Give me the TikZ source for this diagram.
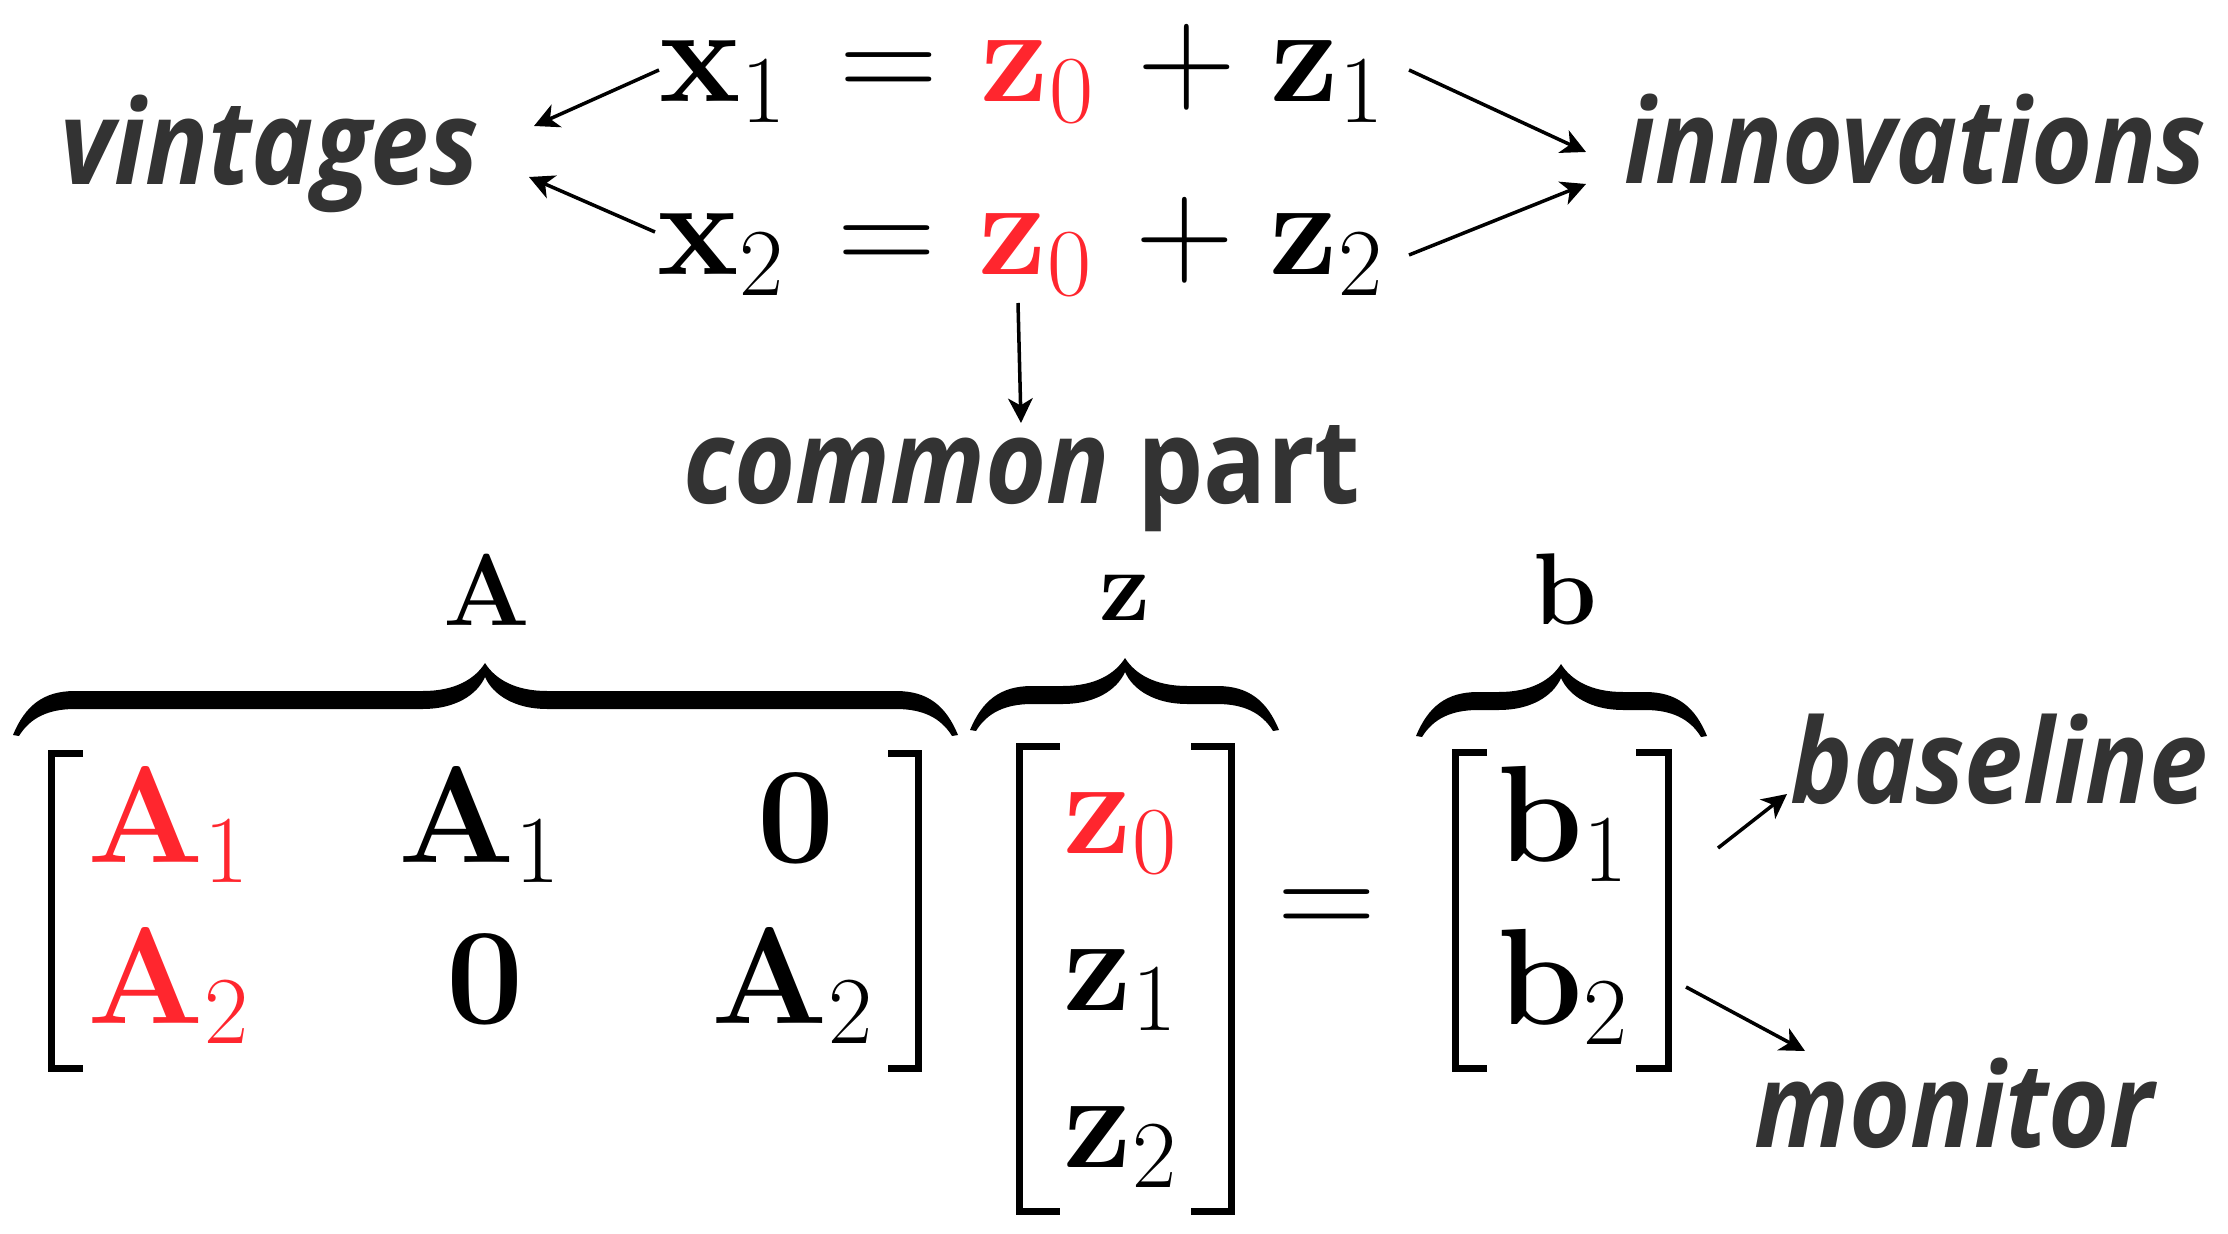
\RequirePackage{fix-cm}
\documentclass[tikz,border=0pt]{standalone}
\usepackage[no-math]{fontspec}
\usepackage{amsmath}
\usetikzlibrary{arrows.meta,calc}
\newfontfamily\wordfont{Open Sans}[FakeStretch=0.89]
\definecolor{zred}{RGB}{255,38,46}
\definecolor{wordgray}{RGB}{51,51,51}

% thick brace over a block: left end, tip, right end, y of the ends
\newcommand{\capbrace}[4]{%
  \fill (#1,#4)
    .. controls ({#1+12},{#4-29}) and ({#1+30},{#4-44}) .. ({#1+62},{#4-44})
    -- ({#2-62},{#4-44})
    .. controls ({#2-30},{#4-44}) and ({#2-10},{#4-56}) .. (#2,{#4-72})
    .. controls ({#2+10},{#4-56}) and ({#2+30},{#4-44}) .. ({#2+62},{#4-44})
    -- ({#3-62},{#4-44})
    .. controls ({#3-30},{#4-44}) and ({#3-12},{#4-29}) .. (#3,#4)
    -- ({#3-6},{#4+1})
    .. controls ({#3-17},{#4-17}) and ({#3-35},{#4-26}) .. ({#3-62},{#4-26})
    -- ({#2+62},{#4-26})
    .. controls ({#2+30},{#4-26}) and ({#2+8},{#4-40}) .. (#2,{#4-58})
    .. controls ({#2-8},{#4-40}) and ({#2-30},{#4-26}) .. ({#2-62},{#4-26})
    -- ({#1+62},{#4-26})
    .. controls ({#1+35},{#4-26}) and ({#1+17},{#4-17}) .. ({#1+6},{#4+1})
    -- cycle;}

\begin{document}
\begin{tikzpicture}[x=0.01cm, y=-0.01cm,
    mth/.style={inner sep=0pt, font=\fontsize{39}{46}\selectfont},
    lbl/.style={inner sep=0pt, font=\fontsize{29}{34}\selectfont},
    word/.style={inner sep=0pt, text=wordgray, anchor=base west,
      font=\wordfont\fontsize{33.5}{40}\selectfont\bfseries\itshape},
    conn/.style={-{Stealth[length=7pt,width=7pt,inset=2pt]}, line width=1pt},
    brk/.style={line width=2pt}]
  \useasboundingbox (0,0) rectangle (2228,1234);

  % the two vintages
  \node[mth, anchor=base west] (x1) at (659,102) {$\mathbf{x}_1$};
  \node[mth, anchor=base] (eq1) at (889,102) {$=$};
  \node[mth, anchor=base west, text=zred] (z0a) at (980,102) {$\mathbf{z}_0$};
  \node[mth, anchor=base] (plus1) at (1187,102) {$+$};
  \node[mth, anchor=base west] (z1) at (1270,102) {$\mathbf{z}_1$};

  \node[mth, anchor=base west] (x2) at (657,275) {$\mathbf{x}_2$};
  \node[mth, anchor=base] (eq2) at (887,275) {$=$};
  \node[mth, anchor=base west, text=zred] (z0b) at (978,275) {$\mathbf{z}_0$};
  \node[mth, anchor=base] (plus2) at (1185,275) {$+$};
  \node[mth, anchor=base west] (z2) at (1269,275) {$\mathbf{z}_2$};

  \node[word] (vint) at (60,185) {vintages};
  \node[word] (innov) at (1624,184) {innovations};
  \node[word] (common) at (683,504) {common {\upshape part}};

  \draw[conn] ($(x1.base west)+(0,-32)$) -- ($(vint.base west)+(474,-59)$);
  \draw[conn] ($(x2.base west)+(-2,-43)$) -- ($(vint.base west)+(469,-8)$);
  \draw[conn] ($(z1.base west)+(139,-32)$) -- ($(innov.base west)+(-38,-32)$);
  \draw[conn] ($(z2.base west)+(140,-20)$) -- ($(innov.base west)+(-38,0)$);
  \draw[conn] ($(z0b.base west)+(40,28)$) -- ($(common.base west)+(338,-81)$);

  % stacked system A z = b
  \capbrace{13}{485}{958}{735}
  \capbrace{970}{1125}{1279}{730}
  \capbrace{1416}{1561}{1707}{736}
  \node[lbl, anchor=base] (lA) at (487,625) {$\mathbf{A}$};
  \node[lbl, anchor=base] (lz) at (1125,620) {$\mathbf{z}$};
  \node[lbl, anchor=base] (lb) at (1565,624) {$\mathbf{b}$};

  \draw[brk] (83,753.5) -- (51.5,753.5) -- (51.5,1068.5) -- (83,1068.5);
  \draw[brk] (888,753.5) -- (918.5,753.5) -- (918.5,1068.5) -- (888,1068.5);
  \node[mth, anchor=base, text=zred] (a11) at (169,862) {$\mathbf{A}_1$};
  \node[mth, anchor=base] (a12) at (480,862) {$\mathbf{A}_1$};
  \node[mth, anchor=base] (a13) at (796,862) {$\mathbf{0}$};
  \node[mth, anchor=base, text=zred] (a21) at (169,1023) {$\mathbf{A}_2$};
  \node[mth, anchor=base] (a22) at (485,1023) {$\mathbf{0}$};
  \node[mth, anchor=base] (a23) at (793,1023) {$\mathbf{A}_2$};

  \draw[brk] (1060,746.5) -- (1019,746.5) -- (1019,1211.5) -- (1060,1211.5);
  \draw[brk] (1191,746.5) -- (1231,746.5) -- (1231,1211.5) -- (1191,1211.5);
  \node[mth, anchor=base west, text=zred] (zv0) at (1063,853) {$\mathbf{z}_0$};
  \node[mth, anchor=base west] (zv1) at (1063,1010) {$\mathbf{z}_1$};
  \node[mth, anchor=base west] (zv2) at (1063,1167) {$\mathbf{z}_2$};

  \node[mth, anchor=base] (eq3) at (1327,938) {$=$};

  \draw[brk] (1487,752.5) -- (1455,752.5) -- (1455,1068.5) -- (1487,1068.5);
  \draw[brk] (1636,752.5) -- (1668,752.5) -- (1668,1068.5) -- (1636,1068.5);
  \node[mth, anchor=base west] (b1) at (1497,861) {$\mathbf{b}_1$};
  \node[mth, anchor=base west] (b2) at (1497,1024) {$\mathbf{b}_2$};

  \node[word] (basew) at (1790,803) {baseline};
  \node[word] (monw) at (1754,1147) {monitor};
  \draw[conn] ($(b1.base west)+(221,-13)$) -- ($(basew.base west)+(-3,-9)$);
  \draw[conn] ($(b2.base west)+(189,-37)$) -- ($(monw.base west)+(51,-96)$);
\end{tikzpicture}
\end{document}
